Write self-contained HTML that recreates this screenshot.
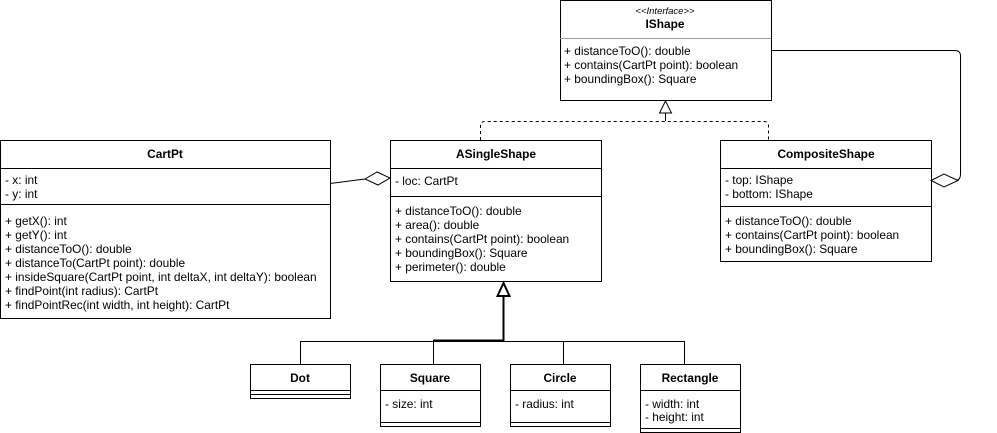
<!DOCTYPE html><html><head><style>
body{margin:0;width:997px;height:433px;background:#fff;overflow:hidden}
text{font-family:"Liberation Sans",Arial,sans-serif;font-size:11.9px;fill:#000}
.b{font-weight:bold;text-anchor:middle}
</style></head><body>
<svg width="997" height="433" xmlns="http://www.w3.org/2000/svg" style="position:absolute;left:0;top:0">
<g fill="#fff" stroke="#000" stroke-width="1">
<rect x="560.5" y="0.5" width="211" height="100"/>
<line x1="560" y1="38.5" x2="771" y2="38.5" stroke="#999"/>
<rect x="0.5" y="140.5" width="330" height="178"/>
<line x1="0" y1="168.5" x2="330" y2="168.5"/>
<line x1="0" y1="204.5" x2="330" y2="204.5"/>
<rect x="390.5" y="140.5" width="211" height="141"/>
<line x1="390" y1="168.5" x2="601" y2="168.5"/>
<line x1="390" y1="196.5" x2="601" y2="196.5"/>
<rect x="720.5" y="140.5" width="211" height="121"/>
<line x1="720" y1="168.5" x2="931" y2="168.5"/>
<line x1="720" y1="206.5" x2="931" y2="206.5"/>
<rect x="250.5" y="364.5" width="100" height="34"/>
<line x1="250" y1="390.5" x2="350" y2="390.5"/>
<line x1="250" y1="394.5" x2="350" y2="394.5"/>
<rect x="380.5" y="364.5" width="100" height="62"/>
<line x1="380" y1="390.5" x2="480" y2="390.5"/>
<line x1="380" y1="422.5" x2="480" y2="422.5"/>
<rect x="510.5" y="364.5" width="100" height="62"/>
<line x1="510" y1="390.5" x2="610" y2="390.5"/>
<line x1="510" y1="422.5" x2="610" y2="422.5"/>
<rect x="640.5" y="364.5" width="100" height="68"/>
<line x1="640" y1="390.5" x2="740" y2="390.5"/>
<line x1="640" y1="428.5" x2="740" y2="428.5"/>
</g>
<g fill="none" stroke="#000">
<path d="M480.5 140 V126 Q480.5 121.5 485 121.5 H764 Q768.5 121.5 768.5 126 V140" stroke-dasharray="3,3"/>
<path d="M665.5 113 V121"/>
<path d="M771 50.5 H955 Q960.5 50.5 960.5 56 V174 Q960.5 180.5 955 180.5 H958"/>
<path d="M330 183.5 L365 179"/>
<path d="M503.5 296 V341.5 M300.5 364 V341.5 H684.5 V364 M433.5 341 V364 M563.5 341 V364"/>
<path d="M433 340.5 H503" stroke-width="2"/>
<path d="M503.5 296 V341" stroke-width="2"/>
</g>
<polygon points="665.5,101 659.5,113 671.5,113" fill="#fff" stroke="#000"/>
<polygon points="503.5,283 497.5,296 509.5,296" fill="#fff" stroke="#000" stroke-width="2"/>
<polygon points="365,179 377,172 390,178 378,185" fill="#fff" stroke="#000"/>
<polygon points="931,180.5 944,174 958,180.5 944,187" fill="#fff" stroke="#000"/>
<text x="665" y="14" style="font-style:italic;font-size:9.5px;text-anchor:middle">&lt;&lt;Interface&gt;&gt;</text>
<text x="665" y="28" class="b">IShape</text>
<text x="564" y="55">+ distanceToO(): double</text>
<text x="564" y="69">+ contains(CartPt point): boolean</text>
<text x="564" y="83">+ boundingBox(): Square</text>
<text x="165" y="158" class="b">CartPt</text>
<text x="5" y="184">- x: int</text>
<text x="5" y="198">- y: int</text>
<text x="5" y="225">+ getX(): int</text>
<text x="5" y="239">+ getY(): int</text>
<text x="5" y="253">+ distanceToO(): double</text>
<text x="5" y="267">+ distanceTo(CartPt point): double</text>
<text x="5" y="281">+ insideSquare(CartPt point, int deltaX, int deltaY): boolean</text>
<text x="5" y="295">+ findPoint(int radius): CartPt</text>
<text x="5" y="309">+ findPointRec(int width, int height): CartPt</text>
<text x="496" y="158" class="b">ASingleShape</text>
<text x="395" y="185">- loc: CartPt</text>
<text x="395" y="215">+ distanceToO(): double</text>
<text x="395" y="229">+ area(): double</text>
<text x="395" y="243">+ contains(CartPt point): boolean</text>
<text x="395" y="257">+ boundingBox(): Square</text>
<text x="395" y="271">+ perimeter(): double</text>
<text x="826" y="158" class="b">CompositeShape</text>
<text x="725" y="184">- top: IShape</text>
<text x="725" y="198">- bottom: IShape</text>
<text x="725" y="225">+ distanceToO(): double</text>
<text x="725" y="239">+ contains(CartPt point): boolean</text>
<text x="725" y="253">+ boundingBox(): Square</text>
<text x="300" y="382" class="b">Dot</text>
<text x="430" y="382" class="b">Square</text>
<text x="560" y="382" class="b">Circle</text>
<text x="690" y="382" class="b">Rectangle</text>
<text x="385" y="408">- size: int</text>
<text x="515" y="408">- radius: int</text>
<text x="645" y="408">- width: int</text>
<text x="645" y="421">- height: int</text>
</svg>
</body></html>
